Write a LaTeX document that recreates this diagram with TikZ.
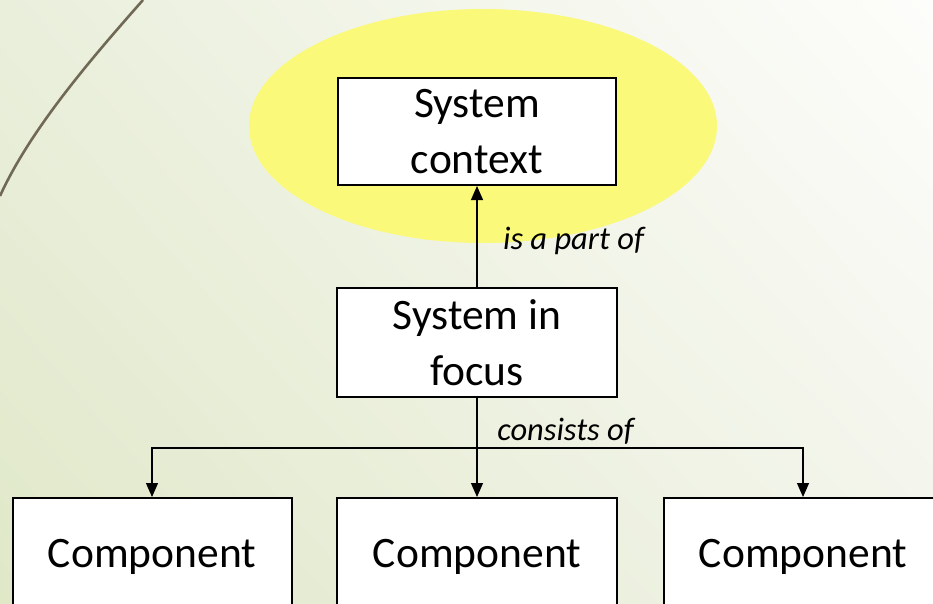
\documentclass[tikz,border=0pt]{standalone}
\usepackage{fontspec}
\setmainfont{Carlito}
\usetikzlibrary{arrows.meta,shadings}
\definecolor{bgUL}{RGB}{234,239,220}
\definecolor{bgUR}{RGB}{253,253,251}
\definecolor{bgLL}{RGB}{224,232,200}
\definecolor{bgLR}{RGB}{242,244,234}
\definecolor{arcline}{RGB}{112,105,86}
\definecolor{halo}{RGB}{250,249,122}
\tikzset{
  box/.style={draw=black, line width=2pt, fill=white, align=center,
    font=\fontsize{43.5}{56}\selectfont, inner sep=0pt},
  conn/.style={draw=black, line width=1.2pt},
  arr/.style={conn, -{Triangle[length=14pt,width=12pt]}},
  rel/.style={font=\fontsize{32.5}{36}\selectfont\itshape, inner sep=0pt},
}
\begin{document}
\begin{tikzpicture}[x=1pt,y=-1pt]
  \clip (0,0) rectangle (933,604);
  % slide background
  \shade[upper left=bgUL, upper right=bgUR, lower left=bgLL, lower right=bgLR]
    (0,0) rectangle (933,604);
  % decorative arc in the corner
  \draw[arcline, line width=2.6pt] (143,0) .. controls (90,60) and (30,130) .. (0,196);
  % highlight behind the context box
  \fill[halo] (483,126) ellipse [x radius=234, y radius=117];

  % boxes
  \node[box, minimum width=278pt, minimum height=107pt] (ctx) at (477,131.5) {System\\context};
  \node[box, minimum width=280pt, minimum height=109pt] (focus) at (477,342.5) {System in\\focus};
  \node[box, minimum width=279pt, minimum height=118pt] (c1) at (152,557) {Component};
  \node[box, minimum width=280pt, minimum height=118pt] (c2) at (477,557) {Component};
  \node[box, minimum width=278pt, minimum height=118pt] (c3) at (803,557) {Component};

  % relations
  \draw[arr] (focus.north) -- (ctx.south);
  \node[rel] (partof) at (573.5,241) {is a part of};

  \coordinate (split) at (477,448);
  \draw[arr] (focus.south) -- (c2.north);
  \draw[arr] (split) -| (c1.north);
  \draw[arr] (split) -| (c3.north);
  \node[rel] (consists) at (565.5,431) {consists of};
\end{tikzpicture}
\end{document}
